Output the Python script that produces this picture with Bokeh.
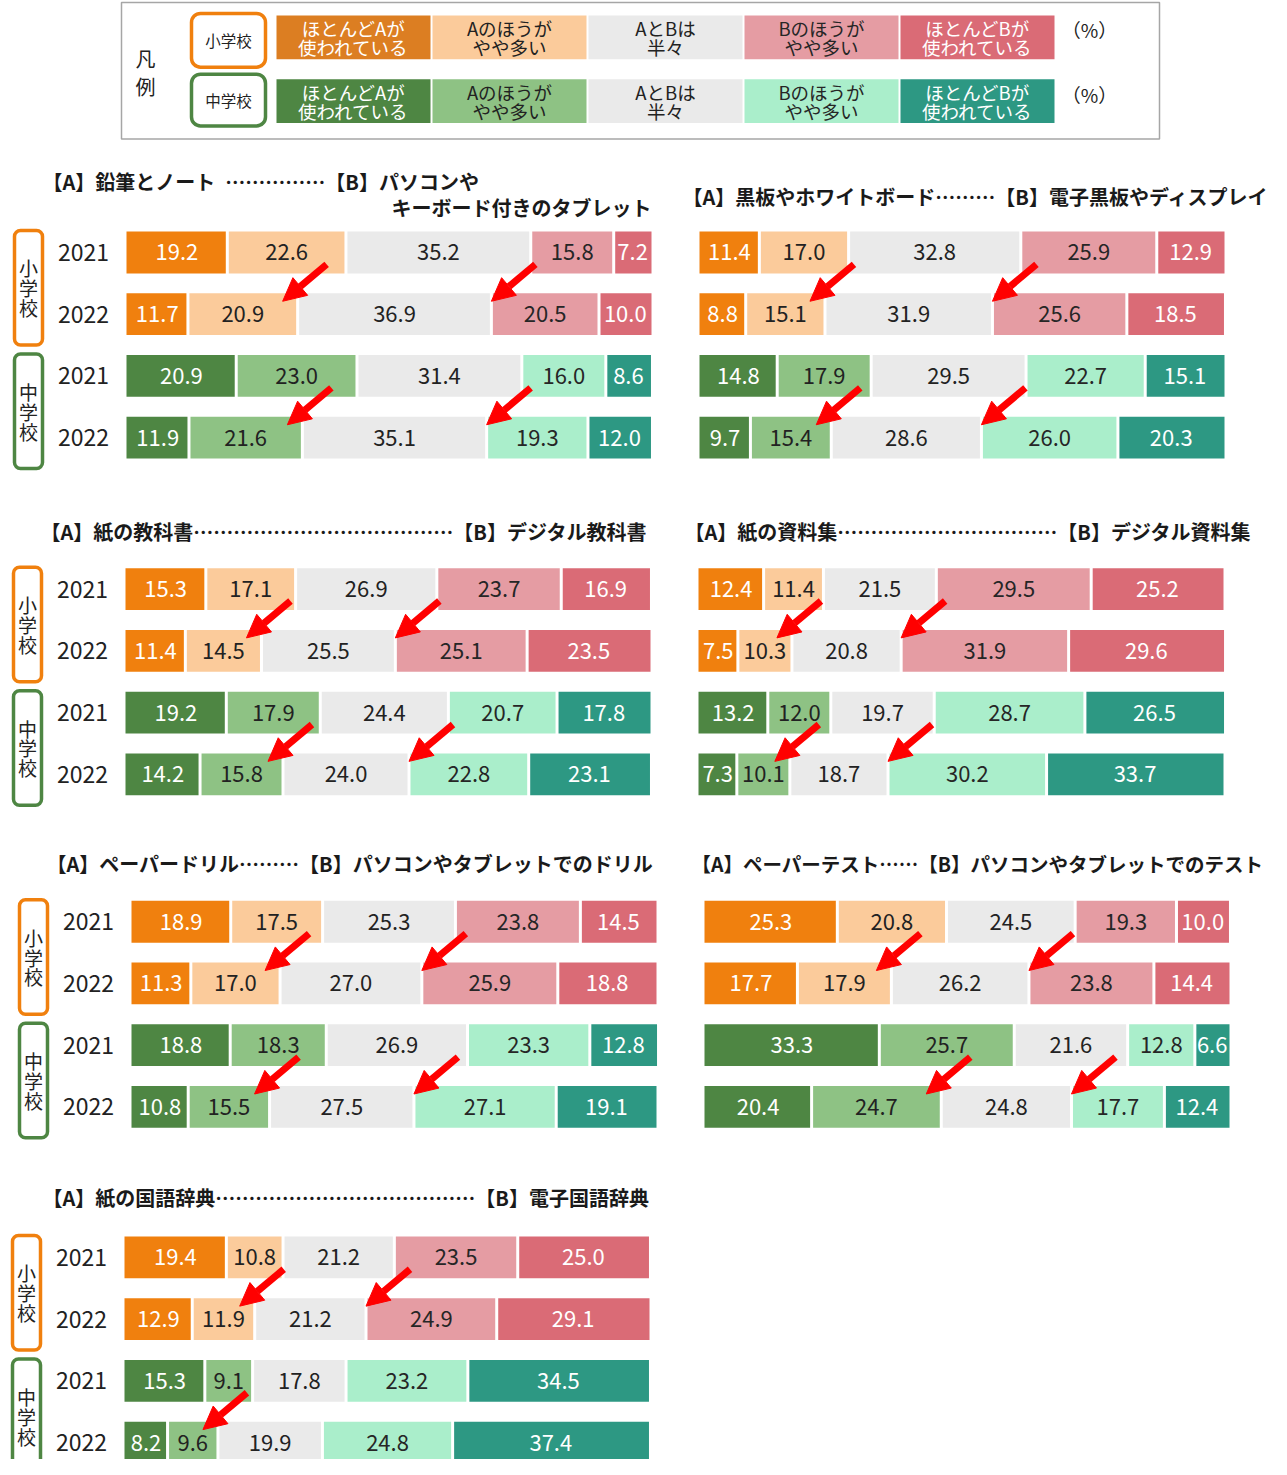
import numpy as np
from bokeh.plotting import figure
from bokeh.models import Range1d, ColumnDataSource, Arrow, NormalHead
from bokeh.core.properties import value
from bokeh.embed import file_html
from bokeh.resources import INLINE

FONT = "Noto Sans CJK JP"

# ---------------- data ----------------
years = ["2021", "2022"]
school_es = "小学校"
school_js = "中学校"
legend_line1 = ["ほとんどAが", "Aのほうが", "AとBは", "Bのほうが", "ほとんどBが"]
legend_line2 = ["使われている", "やや多い", "半々", "やや多い", "使われている"]

title_a = ["【A】鉛筆とノート\u2002", "【A】黒板やホワイトボード", "【A】紙の教科書", "【A】紙の資料集",
           "【A】ペーパードリル", "【A】ペーパーテスト", "【A】紙の国語辞典"]
title_b = ["【B】パソコンや", "【B】電子黒板やディスプレイ", "【B】デジタル教科書", "【B】デジタル資料集",
           "【B】パソコンやタブレットでのドリル", "【B】パソコンやタブレットでのテスト", "【B】電子国語辞典"]
title_dots = [5, 3, 13, 11, 3, 2, 13]
title1_line2 = "キーボード付きのタブレット"

# [2021, 2022] for 小学校 (es) and 中学校 (js)
pencil_es = [[19.2, 22.6, 35.2, 15.8, 7.2], [11.7, 20.9, 36.9, 20.5, 10.0]]
pencil_js = [[20.9, 23.0, 31.4, 16.0, 8.6], [11.9, 21.6, 35.1, 19.3, 12.0]]
board_es = [[11.4, 17.0, 32.8, 25.9, 12.9], [8.8, 15.1, 31.9, 25.6, 18.5]]
board_js = [[14.8, 17.9, 29.5, 22.7, 15.1], [9.7, 15.4, 28.6, 26.0, 20.3]]
textbook_es = [[15.3, 17.1, 26.9, 23.7, 16.9], [11.4, 14.5, 25.5, 25.1, 23.5]]
textbook_js = [[19.2, 17.9, 24.4, 20.7, 17.8], [14.2, 15.8, 24.0, 22.8, 23.1]]
material_es = [[12.4, 11.4, 21.5, 29.5, 25.2], [7.5, 10.3, 20.8, 31.9, 29.6]]
material_js = [[13.2, 12.0, 19.7, 28.7, 26.5], [7.3, 10.1, 18.7, 30.2, 33.7]]
drill_es = [[18.9, 17.5, 25.3, 23.8, 14.5], [11.3, 17.0, 27.0, 25.9, 18.8]]
drill_js = [[18.8, 18.3, 26.9, 23.3, 12.8], [10.8, 15.5, 27.5, 27.1, 19.1]]
test_es = [[25.3, 20.8, 24.5, 19.3, 10.0], [17.7, 17.9, 26.2, 23.8, 14.4]]
test_js = [[33.3, 25.7, 21.6, 12.8, 6.6], [20.4, 24.7, 24.8, 17.7, 12.4]]
dict_es = [[19.4, 10.8, 21.2, 23.5, 25.0], [12.9, 11.9, 21.2, 24.9, 29.1]]
dict_js = [[15.3, 9.1, 17.8, 23.2, 34.5], [8.2, 9.6, 19.9, 24.8, 37.4]]

# boundaries (number of segments before) marked with an arrow on 2022 rows
arrows_std = [[2, 3], [2, 3]]
arrows_dict = [[2, 3], [2]]

# ---------------- styles / layout ----------------
ES_COLORS = ["#F0800E", "#FBCB9B", "#EAEAEA", "#E59CA3", "#DA6B76"]
JS_COLORS = ["#4E8643", "#8EC284", "#EAEAEA", "#AAEECB", "#2D9883"]
LEG_ES = ["#DC7E22", "#FBCB9B", "#EAEAEA", "#E59CA3", "#DA6B76"]
LEG_JS = ["#4E8643", "#8EC284", "#EAEAEA", "#AAEECB", "#2D9883"]
TXT = ["#FFFFFF", "#222222", "#222222", "#262626", "#FFFFFF"]
ORANGE = "#F0800E"
GREEN = "#4E8643"
SCALE = 5.25
GAP = 3
BAR_H = 42
ROW_OFF = [0, 62, 124, 186]

panels = [
    dict(es=pencil_es, js=pencil_js, x0=126, y0=261, labels=True, tx=42, ty=190, fs=20, ar=arrows_std),
    dict(es=board_es, js=board_js, x0=699, y0=261, labels=False, tx=682, ty=205, fs=20, ar=arrows_std),
    dict(es=textbook_es, js=textbook_js, x0=125, y0=599, labels=True, tx=40, ty=541, fs=20, ar=arrows_std),
    dict(es=material_es, js=material_js, x0=698, y0=599, labels=False, tx=684, ty=541, fs=20, ar=arrows_std),
    dict(es=drill_es, js=drill_js, x0=131, y0=933, labels=True, tx=46, ty=875, fs=20, ar=arrows_std),
    dict(es=test_es, js=test_js, x0=704, y0=933, labels=False, tx=691, ty=875, fs=19.5, ar=arrows_std),
    dict(es=dict_es, js=dict_js, x0=124, y0=1270, labels=True, tx=42, ty=1210, fs=20, ar=arrows_dict),
]

p = figure(width=1271, height=1459, x_range=Range1d(0, 1271), y_range=Range1d(1473, 8),
           output_backend="svg", toolbar_location=None, min_border=0,
           x_axis_location=None, y_axis_location=None, outline_line_color=None,
           background_fill_color="white", border_fill_color="white")
p.xgrid.visible = False
p.ygrid.visible = False

# ---------------- legend ----------------
p.quad(left=[121], right=[1159], top=[10], bottom=[147], fill_color=None,
       line_color="#A6A6A6", line_width=1.5)
p.text(x=[145, 145], y=[66, 94], text=["凡", "例"], text_font=value(FONT),
       text_font_size=value("20px"), text_align="center", text_baseline="middle", text_color="#222222")
p.quad(left=[191, 191], right=[265, 265], top=[21, 82], bottom=[75, 134],
       fill_color="white", line_color=[ORANGE, GREEN], line_width=3.5, border_radius=9)
p.text(x=[228, 228], y=[48, 108], text=[school_es, school_js], text_font=value(FONT),
       text_font_size=value("15.5px"), text_align="center", text_baseline="middle", text_color="#222222")
leg = dict(left=[], right=[], top=[], bottom=[], color=[])
legt = dict(x=[], y=[], text=[], color=[])
for r, (cols, ytop) in enumerate([(LEG_ES, 23), (LEG_JS, 87)]):
    for k in range(5):
        l = 276 + k * 156
        leg["left"].append(l); leg["right"].append(l + 154)
        leg["top"].append(ytop); leg["bottom"].append(ytop + 44)
        leg["color"].append(cols[k])
        legt["x"] += [l + 77, l + 77]
        legt["y"] += [ytop + 13, ytop + 32]
        legt["text"] += [legend_line1[k], legend_line2[k]]
        legt["color"] += [TXT[k], TXT[k]]
p.quad(left="left", right="right", top="top", bottom="bottom", fill_color="color",
       line_color=None, source=ColumnDataSource(leg))
p.text(x="x", y="y", text="text", text_color="color", source=ColumnDataSource(legt),
       text_font=value(FONT), text_font_size=value("18.5px"), text_align="center",
       text_baseline="middle", text_line_height=1.0)
p.text(x=[1089, 1089], y=[37, 102], text=["（%）", "（%）"], text_font=value(FONT),
       text_font_size=value("19px"), text_align="center", text_baseline="middle", text_color="#222222")

# ---------------- panels ----------------
segs = dict(left=[], right=[], top=[], bottom=[], color=[])
labs = dict(x=[], y=[], text=[], color=[])
yrs = dict(x=[], y=[], text=[])
tit = dict(x=[], y=[], text=[], fs=[])
brk = dict(left=[], right=[], top=[], bottom=[], color=[])
brt = dict(x=[], y=[], text=[])
arr = dict(xs=[], ys=[], xe=[], ye=[])

for i, pn in enumerate(panels):
    rows = [pn["es"][0], pn["es"][1], pn["js"][0], pn["js"][1]]
    x0, y0 = pn["x0"], pn["y0"]
    tit["x"].append(pn["tx"]); tit["y"].append(pn["ty"])
    tit["text"].append(title_a[i] + "…" * title_dots[i] + title_b[i])
    tit["fs"].append(f"{pn['fs']}px")
    for r, vals in enumerate(rows):
        yc = y0 + ROW_OFF[r]
        cols = ES_COLORS if r < 2 else JS_COLORS
        cum = np.concatenate([[0.0], np.cumsum(vals)])
        for k, v in enumerate(vals):
            l = x0 + cum[k] * SCALE
            rr = x0 + cum[k + 1] * SCALE
            segs["left"].append(l + (GAP / 2 if k > 0 else 0))
            segs["right"].append(rr - (GAP / 2 if k < 4 else 0))
            segs["top"].append(yc - BAR_H / 2)
            segs["bottom"].append(yc + BAR_H / 2)
            segs["color"].append(cols[k])
            labs["x"].append((l + rr) / 2); labs["y"].append(yc)
            labs["text"].append(f"{v:.1f}"); labs["color"].append(TXT[k])
        if pn["labels"]:
            yrs["x"].append(x0 - 43); yrs["y"].append(yc); yrs["text"].append(years[r % 2])
        if r % 2 == 1:
            for b in pn["ar"][r // 2]:
                off = -15 if b == 2 else 0
                tipx = x0 + cum[b] * SCALE + off
                tipy = yc - 13
                arr["xe"].append(tipx); arr["ye"].append(tipy)
                arr["xs"].append(tipx + 44); arr["ys"].append(tipy - 37)
    if pn["labels"]:
        for g, (name, col) in enumerate([(school_es, ORANGE), (school_js, GREEN)]):
            top = y0 + ROW_OFF[2 * g] - 22
            bot = y0 + ROW_OFF[2 * g + 1] + 31
            brk["left"].append(x0 - 112); brk["right"].append(x0 - 84)
            brk["top"].append(top); brk["bottom"].append(bot); brk["color"].append(col)
            cy = (top + bot) / 2
            for j, ch in enumerate(name):
                brt["x"].append(x0 - 98); brt["y"].append(cy + (j - 1) * 20); brt["text"].append(ch)

p.quad(left="left", right="right", top="top", bottom="bottom", fill_color="color",
       line_color=None, source=ColumnDataSource(segs))
p.text(x="x", y="y", text="text", text_color="color", source=ColumnDataSource(labs),
       text_font=value(FONT), text_font_size=value("22px"), text_align="center", text_baseline="middle")
p.text(x="x", y="y", text="text", source=ColumnDataSource(yrs), text_color="#222222",
       text_font=value(FONT), text_font_size=value("23px"), text_align="center", text_baseline="middle")
p.text(x="x", y="y", text="text", source=ColumnDataSource(tit), text_color="#1A1A1A",
       text_font=value(FONT), text_font_size="fs", text_font_style="bold",
       text_align="left", text_baseline="middle")
p.text(x=[651], y=[216], text=[title1_line2], text_color="#1A1A1A",
       text_font=value(FONT), text_font_size=value("20px"), text_font_style="bold",
       text_align="right", text_baseline="middle")
p.quad(left="left", right="right", top="top", bottom="bottom", fill_color="white",
       line_color="color", line_width=3.5, border_radius=6, source=ColumnDataSource(brk))
p.text(x="x", y="y", text="text", source=ColumnDataSource(brt), text_color="#222222",
       text_font=value(FONT), text_font_size=value("19px"), text_align="center", text_baseline="middle")

p.add_layout(Arrow(end=NormalHead(size=23, fill_color="#FF0000", line_color="#FF0000"),
                   x_start="xs", y_start="ys", x_end="xe", y_end="ye",
                   line_color="#FF0000", line_width=7, source=ColumnDataSource(arr)))

open("out.html", "w").write(file_html(p, INLINE))
